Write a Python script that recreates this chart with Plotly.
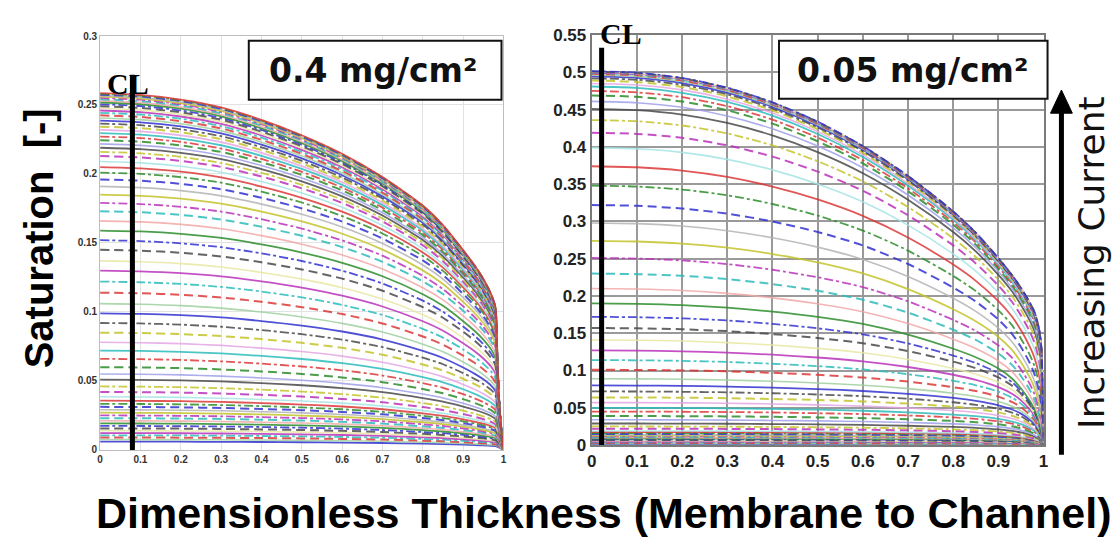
import numpy as np
import plotly.graph_objects as go

# ---------------- data ----------------
# Left panel (0.4 mg/cm2): saturation at the membrane side (x=0) for each curve, low -> high current
left_start = [0.0060, 0.0075, 0.0090, 0.0106, 0.0122, 0.0139, 0.0156, 0.0174, 0.0192, 0.0211,
              0.0230, 0.0250, 0.0270, 0.0291, 0.0312, 0.0334, 0.0357, 0.0385, 0.0420, 0.0460,
              0.0510, 0.0550, 0.0600, 0.0660, 0.0720, 0.0780, 0.0850, 0.0920, 0.0990, 0.1060,
              0.1140, 0.1220, 0.1300, 0.1370, 0.1450, 0.1520, 0.1590, 0.1660, 0.1730, 0.1790,
              0.1850, 0.1910, 0.1960, 0.2010, 0.2050, 0.2090, 0.2130, 0.2160, 0.2190, 0.2218,
              0.2245, 0.2271, 0.2296, 0.2320, 0.2343, 0.2365, 0.2386, 0.2406, 0.2425, 0.2443,
              0.2460, 0.2476, 0.2491, 0.2505, 0.2518, 0.2530, 0.2541, 0.2551, 0.2560, 0.2568,
              0.2575, 0.2581, 0.2586]
# thickness positions at which the normalised curve shapes were read
left_thickness = [0, 0.1, 0.2, 0.3, 0.4, 0.5, 0.6, 0.7, 0.8, 0.85, 0.9, 0.93, 0.95, 0.97,
                  0.98, 0.985, 0.99, 0.995, 1.0]
left_shape_levels = [0.0, 0.258]
left_shape_low = [1, 0.997, 0.99, 0.976, 0.955, 0.928, 0.89, 0.835, 0.75, 0.70, 0.63, 0.58,
                  0.54, 0.49, 0.45, 0.38, 0.27, 0.13, 0]
left_shape_high = [1, 0.995, 0.982, 0.96, 0.925, 0.882, 0.83, 0.765, 0.685, 0.63, 0.56, 0.515,
                   0.48, 0.435, 0.40, 0.25, 0.12, 0.05, 0]

# Right panel (0.05 mg/cm2)
right_start = [0.0008, 0.0018, 0.0028, 0.0038, 0.0048, 0.0058, 0.0068, 0.0078, 0.0088, 0.0098,
               0.0108, 0.0118, 0.0128, 0.0139, 0.0150, 0.0162, 0.0175, 0.0190, 0.0220, 0.0250,
               0.0290, 0.0340, 0.0390, 0.0450, 0.0500, 0.0570, 0.0640, 0.0720, 0.0800, 0.0890,
               0.1010, 0.1140, 0.1270, 0.1410, 0.1570, 0.1720, 0.1900, 0.2100, 0.2300, 0.2510,
               0.2740, 0.2980, 0.3220, 0.3480, 0.3740, 0.3990, 0.4190, 0.4360, 0.4510, 0.4610,
               0.4690, 0.4750, 0.4810, 0.4850, 0.4890, 0.4920, 0.4945, 0.4965, 0.4980, 0.4990,
               0.4998, 0.5005, 0.5010, 0.5015]
right_thickness = [0, 0.1, 0.2, 0.3, 0.4, 0.5, 0.6, 0.7, 0.8, 0.85, 0.9, 0.93, 0.95, 0.97,
                   0.98, 0.99, 0.995, 1.0]
right_shape_levels = [0.0, 0.19, 0.5]
right_shape_low = [1, 0.999, 0.996, 0.99, 0.98, 0.965, 0.945, 0.915, 0.87, 0.83, 0.76, 0.69,
                   0.62, 0.50, 0.42, 0.30, 0.20, 0]
right_shape_mid = [1, 0.997, 0.988, 0.97, 0.942, 0.905, 0.855, 0.78, 0.68, 0.62, 0.54, 0.47,
                   0.40, 0.31, 0.25, 0.16, 0.10, 0]
right_shape_high = [1, 0.996, 0.982, 0.956, 0.917, 0.865, 0.80, 0.72, 0.625, 0.568, 0.50, 0.455,
                    0.42, 0.38, 0.355, 0.31, 0.26, 0]

x_ticks = [0, 0.1, 0.2, 0.3, 0.4, 0.5, 0.6, 0.7, 0.8, 0.9, 1]
left_cl_position = 0.08
right_cl_position = 0.022
left_label = "0.4 mg/cm²"
right_label = "0.05 mg/cm²"

# MATLAB-style colour / line-style cycles (b g r c m y k ; - : -- -.)
cycle_colors = ["#3535d0", "#2e8e2e", "#dc3a3a", "#2fbcbc", "#bb35bb", "#c4c42e", "#4a4a4a"]
cycle_light = ["#a0a0ea", "#9fd09f", "#f2a8a8", "#a6e4e4", "#e4a6e4", "#e8e8a4", "#b4b4b4"]
cycle_styles = ["solid", "dot", "dash", "dashdot"]

W, H = 1114, 540


def px(xp):
    return xp / W


def py(yp):
    return 1 - yp / H


fig = go.Figure()


def add_panel(starts, thick, levels, shapes, xa, ya):
    shapes = np.array(shapes)
    for i, s0 in enumerate(starts):
        prof = [np.interp(s0, levels, shapes[:, j]) for j in range(shapes.shape[1])]
        yv = [s0 * p for p in prof]
        c = i % 7
        st = cycle_styles[i % 4]
        if st == "dot":
            line = dict(color=cycle_light[c], width=1.6)
        elif st == "solid":
            line = dict(color=cycle_colors[c], width=1.8)
        elif st == "dash":
            line = dict(color=cycle_colors[c], width=2, dash="9px,5px")
        else:
            line = dict(color=cycle_colors[c], width=1.8, dash="9px,3px,3px,3px")
        fig.add_trace(go.Scatter(x=thick, y=yv, mode="lines", line=line, opacity=0.85,
                                 line_shape="spline", line_smoothing=0.7,
                                 xaxis=xa, yaxis=ya, showlegend=False, hoverinfo="skip"))


add_panel(left_start, left_thickness, left_shape_levels,
          [left_shape_low, left_shape_high], "x", "y")
add_panel(right_start, right_thickness, right_shape_levels,
          [right_shape_low, right_shape_mid, right_shape_high], "x2", "y2")

left_tick = dict(family="Liberation Sans", size=10, color="#333333", weight="bold")
right_tick = dict(family="Liberation Sans", size=17, color="#222222", weight="bold")

fig.update_layout(
    width=W, height=H, margin=dict(l=0, r=0, t=0, b=0),
    paper_bgcolor="white", plot_bgcolor="white", showlegend=False,
    xaxis=dict(domain=[px(96), px(503)], anchor="y", range=[0, 1], tickvals=x_ticks,
               showgrid=True, gridcolor="#e2e2e2", gridwidth=1, zeroline=False,
               showline=True, linecolor="#bdbdbd", linewidth=1, mirror=True,
               tickfont=left_tick, ticks=""),
    yaxis=dict(domain=[py(457), py(28)], anchor="x", range=[0, 0.3], dtick=0.05,
               showgrid=True, gridcolor="#e2e2e2", gridwidth=1, zeroline=False,
               showline=True, linecolor="#bdbdbd", linewidth=1, mirror=True,
               tickfont=left_tick, ticks=""),
    xaxis2=dict(domain=[px(592), px(1048)], anchor="y2", range=[0, 1], tickvals=x_ticks,
                showgrid=True, gridcolor="#9a9a9a", gridwidth=1.5, zeroline=False,
                showline=True, linecolor="#7a7a7a", linewidth=2, mirror=True,
                tickfont=right_tick, ticks=""),
    yaxis2=dict(domain=[py(452), py(27)], anchor="x2", range=[0, 0.55], dtick=0.05,
                showgrid=True, gridcolor="#9a9a9a", gridwidth=1.5, zeroline=False,
                showline=True, linecolor="#7a7a7a", linewidth=2, mirror=True,
                tickfont=right_tick, ticks=""),
)

shapes = [
    # CL lines
    dict(type="line", xref="x", yref="y", x0=left_cl_position, x1=left_cl_position,
         y0=0, y1=0.272, line=dict(color="black", width=5)),
    dict(type="line", xref="x2", yref="y2", x0=right_cl_position, x1=right_cl_position,
         y0=0, y1=0.533, line=dict(color="black", width=5)),
    # label boxes
    dict(type="rect", xref="paper", yref="paper", x0=px(246), x1=px(501), y0=py(94), y1=py(33),
         line=dict(color="#111111", width=2), fillcolor="white"),
    dict(type="rect", xref="paper", yref="paper", x0=px(781), x1=px(1052), y0=py(93), y1=py(33),
         line=dict(color="#111111", width=2), fillcolor="white"),
    # increasing-current arrow
    dict(type="line", xref="paper", yref="paper", x0=px(1066), x1=px(1066), y0=py(462), y1=py(104),
         line=dict(color="black", width=5)),
    dict(type="path", xref="paper", yref="paper",
         path=f"M {px(1055)} {py(108)} L {px(1077)} {py(108)} L {px(1066)} {py(84)} Z",
         fillcolor="black", line=dict(color="black", width=1)),
]
fig.update_layout(shapes=shapes)

box_font = dict(family="DejaVu Sans", size=33, color="#111111", weight="bold")
annotations = [
    dict(text=left_label, x=px(371), y=py(64), xref="paper", yref="paper", showarrow=False,
         xanchor="center", yanchor="middle", font=box_font),
    dict(text=right_label, x=px(916), y=py(64), xref="paper", yref="paper", showarrow=False,
         xanchor="center", yanchor="middle", font=box_font),
    dict(text="CL", x=px(124), y=py(77), xref="paper", yref="paper", showarrow=False,
         xanchor="center", yanchor="middle",
         font=dict(family="Liberation Serif", size=30, color="black", weight="bold")),
    dict(text="CL", x=px(622), y=py(25), xref="paper", yref="paper", showarrow=False,
         xanchor="center", yanchor="middle",
         font=dict(family="Liberation Serif", size=30, color="black", weight="bold")),
    dict(text="Saturation\u00a0\u00a0[-]", x=px(34), y=py(238), xref="paper", yref="paper",
         showarrow=False, textangle=-90, xanchor="center", yanchor="middle",
         font=dict(family="Liberation Sans", size=40, color="black", weight="bold")),
    dict(text="Dimensionless Thickness (Membrane to Channel)", x=px(604), y=py(522),
         xref="paper", yref="paper", showarrow=False, xanchor="center", yanchor="middle",
         font=dict(family="Liberation Sans", size=43, color="black", weight="bold")),
    dict(text="Increasing Current", x=px(1097), y=py(263), xref="paper", yref="paper",
         showarrow=False, textangle=-90, xanchor="center", yanchor="middle",
         font=dict(family="DejaVu Sans", size=36, color="#111111")),
]
fig.update_layout(annotations=annotations)

fig.write_html("out.html")
